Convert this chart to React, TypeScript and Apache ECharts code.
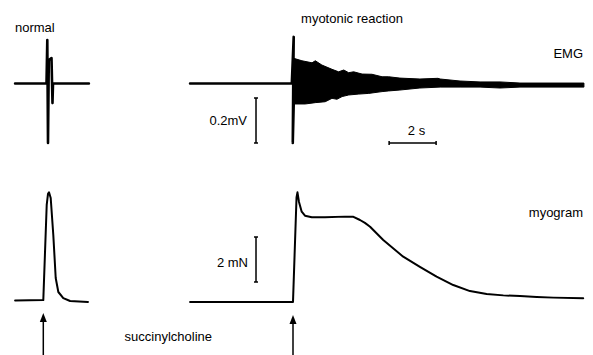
import React, { useEffect, useRef } from "react";
import * as echarts from "echarts";

// ---------- Data (time in s, relative to succinylcholine; EMG in mV; force in mN) ----------
// Normal EMG (left)
const emgNormalT = [-1.2, 0.136, 0.17, 0.2, 0.234, 0.349, 0.391, 0.413, 1.94];
const emgNormalMv = [0, 0, 0.193, -0.264, 0.104, 0.113, -0.087, 0, 0];

// Myotonic EMG (right): baseline + initial spike
const emgMyoT = [-4.38, -0.05, 0.03, 0.01, -0.01, 0.04, 0.05];
const emgMyoMv = [0, 0, 0.207, 0, -0.264, -0.05, 0];

// Myotonic EMG burst envelope (upper / lower edges)
const burstTopT = [0.03, 0.38, 0.81, 0.95, 1.23, 1.66, 1.94, 2.16, 2.37, 2.58, 2.94, 3.36, 3.79, 4.07, 4.55, 5.4, 6.17, 6.26, 7.11, 7.96, 8.81, 9.66, 12.38];
const burstTopMv = [0.112, 0.101, 0.092, 0.101, 0.082, 0.063, 0.052, 0.06, 0.048, 0.052, 0.042, 0.041, 0.03, 0.03, 0.024, 0.02, 0.023, 0.02, 0.011, 0.007, 0.007, 0.002, 0.002];
const burstBotT = [0.03, 0.52, 0.95, 1.37, 1.66, 1.87, 2.09, 2.37, 2.8, 3.22, 3.79, 4.07, 4.55, 5.4, 6.26, 7.11, 7.96, 8.81, 9.66, 12.38];
const burstBotMv = [-0.091, -0.091, -0.085, -0.081, -0.066, -0.07, -0.058, -0.051, -0.047, -0.044, -0.036, -0.033, -0.029, -0.02, -0.016, -0.016, -0.016, -0.02, -0.016, -0.016];

// Normal myogram (left)
const myoNormalT = [-1.2, 0, 0.145, 0.2, 0.243, 0.315, 0.426, 0.528, 0.64, 0.85, 1.14, 1.9];
const myoNormalMn = [0.02, 0.04, 4.27, 4.76, 4.83, 4.58, 2.93, 1.02, 0.4, 0.13, 0, -0.04];

// Myotonic myogram (right)
const myoMyoT = [-4.38, 0, 0.15, 0.19, 0.255, 0.37, 0.51, 0.8, 1.36, 2.21, 2.55, 2.85, 3.06, 3.28, 3.84, 4.69, 5.4, 6.11, 6.82, 7.53, 8.24, 8.95, 9.66, 10.37, 11.08, 12.35];
const myoMyoMn = [-0.04, -0.04, 4.6, 4.83, 4.4, 3.97, 3.79, 3.72, 3.72, 3.75, 3.75, 3.6, 3.47, 3.3, 2.71, 1.97, 1.52, 1.08, 0.71, 0.44, 0.31, 0.25, 0.22, 0.18, 0.15, 0.12];

// Scale bars
const emgScaleMv = 0.2;
const timeScaleS = 2;
const forceScaleMn = 2;

const zip = (a: number[], b: number[]) => a.map((v, i) => [v, b[i]]);

const FONT = '13px "Liberation Sans", Arial, sans-serif';

export default function App() {
  const ref = useRef<HTMLDivElement>(null);
  useEffect(() => {
    const chart = echarts.init(ref.current!, null, { renderer: "svg" });

    // scale-bar anchors (layout)
    const vBarT = -1.574;
    const emgBarBottom = -0.264;
    const forceBarBottom = 0.84;
    const timeBarStart = 4.09;
    const capT = 0.085;
    const capMv = 0.009;

    const emgBar = [
      [vBarT - capT, emgBarBottom + emgScaleMv], [vBarT + capT, emgBarBottom + emgScaleMv],
      [vBarT, emgBarBottom + emgScaleMv], [vBarT, emgBarBottom],
      [vBarT - capT, emgBarBottom], [vBarT + capT, emgBarBottom],
    ];
    const timeBar = [
      [timeBarStart, emgBarBottom + capMv], [timeBarStart, emgBarBottom - capMv],
      [timeBarStart, emgBarBottom], [timeBarStart + timeScaleS, emgBarBottom],
      [timeBarStart + timeScaleS, emgBarBottom + capMv], [timeBarStart + timeScaleS, emgBarBottom - capMv],
    ];
    const forceBar = [
      [vBarT - capT, forceBarBottom + forceScaleMn], [vBarT + capT, forceBarBottom + forceScaleMn],
      [vBarT, forceBarBottom + forceScaleMn], [vBarT, forceBarBottom],
      [vBarT - capT, forceBarBottom], [vBarT + capT, forceBarBottom],
    ];

    const hidden = { show: false };
    const lineBase = {
      type: "line" as const,
      symbol: "none",
      smooth: false,
      silent: true,
      clip: false,
      lineStyle: { color: "#000", width: 2, join: "round", cap: "round" },
    };

    const text = (t: string, x: number, y: number, align: string) => ({
      type: "text",
      x,
      y,
      style: { text: t, font: FONT, fill: "#000", textAlign: align, textVerticalAlign: "middle" },
    });
    const arrow = (x: number, tip: number) => [
      { type: "line", shape: { x1: x, y1: tip + 6, x2: x, y2: 356 }, style: { stroke: "#000", lineWidth: 1.5 } },
      { type: "polygon", shape: { points: [[x - 3.5, tip + 9], [x, tip], [x + 3.5, tip + 9]] }, style: { fill: "#000" } },
    ];

    chart.setOption({
      animation: false,
      backgroundColor: "#fff",
      grid: [
        { left: 8.05, top: 16, width: 94, height: 135 },
        { left: 175.5, top: 16, width: 411.25, height: 135 },
        { left: 8.05, top: 177.25, width: 94, height: 146.25 },
        { left: 175.5, top: 177.25, width: 411.25, height: 146.25 },
      ],
      xAxis: [
        { type: "value", gridIndex: 0, min: -1.5, max: 2.5, ...hidden },
        { type: "value", gridIndex: 1, min: -5, max: 12.5, ...hidden },
        { type: "value", gridIndex: 2, min: -1.5, max: 2.5, ...hidden },
        { type: "value", gridIndex: 3, min: -5, max: 12.5, ...hidden },
      ],
      yAxis: [
        { type: "value", gridIndex: 0, min: -0.3, max: 0.3, ...hidden },
        { type: "value", gridIndex: 1, min: -0.3, max: 0.3, ...hidden },
        { type: "value", gridIndex: 2, min: -1, max: 5.5, ...hidden },
        { type: "value", gridIndex: 3, min: -1, max: 5.5, ...hidden },
      ],
      series: [
        { ...lineBase, xAxisIndex: 0, yAxisIndex: 0, data: zip(emgNormalT, emgNormalMv), lineStyle: { ...lineBase.lineStyle, width: 2.6 } },
        { ...lineBase, xAxisIndex: 1, yAxisIndex: 1, data: zip(emgMyoT, emgMyoMv), lineStyle: { ...lineBase.lineStyle, width: 2.6 } },
        {
          type: "custom",
          xAxisIndex: 1,
          yAxisIndex: 1,
          silent: true,
          data: [[burstTopT[0], burstTopMv[0]]],
          renderItem: (_p: any, api: any) => {
            const pts: number[][] = [];
            for (let i = 0; i < burstTopT.length; i++) pts.push(api.coord([burstTopT[i], burstTopMv[i]]));
            for (let i = burstBotT.length - 1; i >= 0; i--) pts.push(api.coord([burstBotT[i], burstBotMv[i]]));
            return { type: "polygon", shape: { points: pts }, style: { fill: "#000", stroke: "#000", lineWidth: 1 } };
          },
        },
        { ...lineBase, xAxisIndex: 2, yAxisIndex: 2, data: zip(myoNormalT, myoNormalMn) },
        { ...lineBase, xAxisIndex: 3, yAxisIndex: 3, data: zip(myoMyoT, myoMyoMn) },
        { ...lineBase, xAxisIndex: 1, yAxisIndex: 1, data: emgBar, lineStyle: { color: "#000", width: 1.5 } },
        { ...lineBase, xAxisIndex: 1, yAxisIndex: 1, data: timeBar, lineStyle: { color: "#000", width: 1.5 } },
        { ...lineBase, xAxisIndex: 3, yAxisIndex: 3, data: forceBar, lineStyle: { color: "#000", width: 1.5 } },
      ],
      graphic: [
        text("normal", 15, 27, "left"),
        text("myotonic reaction", 352, 18, "center"),
        text("EMG", 583, 53, "right"),
        text("myogram", 583, 212, "right"),
        text("0.2mV", 247, 120, "right"),
        text("2 mN", 248, 262, "right"),
        text("2 s", 416.5, 130, "center"),
        text("succinylcholine", 212, 336, "right"),
        ...arrow(43.3, 313),
        ...arrow(293, 315),
      ],
    });
    return () => chart.dispose();
  }, []);
  return (
    <div
      ref={ref}
      style={{ position: "absolute", left: 0, top: 0, width: 593, height: 355, background: "#fff" }}
    />
  );
}
